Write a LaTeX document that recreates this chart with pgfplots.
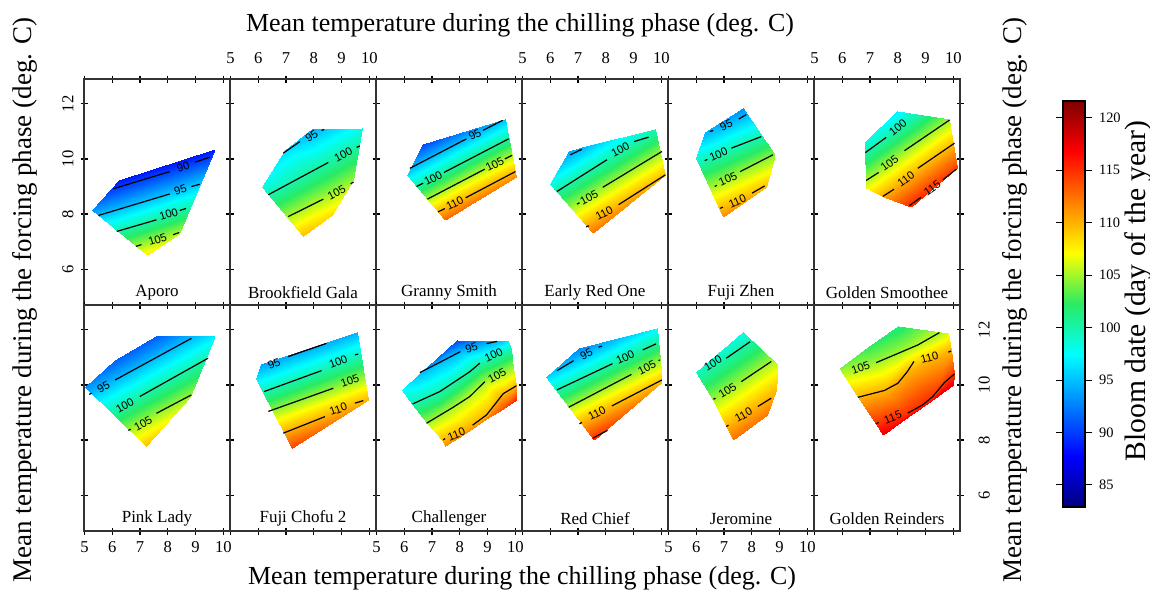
\documentclass[border=0pt]{standalone}
\usepackage{fontspec}
\setmainfont{Liberation Serif}
\newfontfamily\sansf{Liberation Sans}
\usepackage{pgfplots}
\pgfplotsset{compat=1.18}
\pgfplotsset{
 colormap={myjet}{rgb255(0cm)=(0,0,128) rgb255(1cm)=(0,0,255) rgb255(2cm)=(0,128,255) rgb255(3cm)=(0,255,255) rgb255(4cm)=(40,235,100) rgb255(5cm)=(255,255,0) rgb255(6cm)=(255,128,0) rgb255(7cm)=(255,0,0) rgb255(8cm)=(128,0,0)},
 panel/.style={
   scale only axis, width=73pt, height=113pt, anchor=north west,
   xmin=4.98, xmax=10.24, ymin=4.7, ymax=12.9,
   xtick={5,6,7,8,9,10}, ytick={6,8,10,12},
   tick align=center, major tick length=3.5pt,
   tick style={black, line width=0.6pt},
   axis line style={line width=0.7pt, black!80},
   colormap name=myjet, point meta min=82.9, point meta max=121.6,
   ticklabel style={font=\fontsize{8.3}{9}\selectfont},
   /pgf/number format/assume math mode=true,
 },
 srf/.style={patch, shader=interp, point meta=explicit},
}
\tikzset{
 cl/.style={black, line width=0.6pt},
 clab/.style={font=\sansf\fontsize{5.6}{6}\selectfont, inner sep=0pt},
 pname/.style={font=\fontsize{8.5}{9}\selectfont},
}
\newcommand{\CL}[1]{\addplot[cl] coordinates {#1};}
\newcommand{\LB}[3]{\node[clab,rotate=#1] at (axis cs:#2) {#3};}
\begin{document}
\begin{tikzpicture}
\useasboundingbox (0,0) rectangle (575pt,-295.5pt);
% ---------- Panel 1: Aporo
\begin{axis}[panel, at={(42pt,-39.5pt)}, xticklabels={}, yticklabel pos=left, ytick pos=both, xtick pos=both, yticklabel style={rotate=90, anchor=south}]
\addplot[srf] table[meta=c]{
x y c
7.37 8.30 96.7
5.26 8.13 93.3
6.25 9.22 88.5
7.37 8.30 96.7
6.25 9.22 88.5
9.69 10.36 88.5
7.37 8.30 96.7
9.69 10.36 88.5
8.41 7.28 105.4
7.37 8.30 96.7
8.41 7.28 105.4
7.26 6.52 107.8
7.37 8.30 96.7
7.26 6.52 107.8
5.26 8.13 93.3
};
\CL{(6.04,8.92)(8.07,9.54)} \CL{(8.97,9.88)(9.51,10.06)} \LB{18}{8.55,9.71}{90}
\CL{(5.50,7.95)(8.07,8.73)} \CL{(8.85,9.00)(9.15,9.08)} \LB{18}{8.45,8.88}{95}
\CL{(6.16,7.37)(7.59,7.79)} \CL{(8.43,8.13)(8.65,8.20)} \LB{18}{8.03,7.99}{100}
\CL{(6.85,6.83)(7.05,6.89)} \CL{(8.19,7.25)(8.41,7.33)} \LB{18}{7.63,7.08}{105}
\node[pname] at (rel axis cs:0.5,0.055) {Aporo};
\end{axis}
% ---------- Panel 2: Brookfield Gala
\begin{axis}[panel, at={(115pt,-39.5pt)}, yticklabels={}, xticklabel pos=right, xtick pos=both, ytick pos=both, xticklabel shift=2.5pt]
\addplot[srf] table[meta=c]{
x y c
8.20 9.30 101.7
6.12 9.00 98.2
6.96 10.33 96.2
8.20 9.30 101.7
6.96 10.33 96.2
7.92 11.08 94.5
8.20 9.30 101.7
7.92 11.08 94.5
9.74 11.14 98.0
8.20 9.30 101.7
9.74 11.14 98.0
9.42 9.24 104.7
8.20 9.30 101.7
9.42 9.24 104.7
8.64 7.97 108.3
8.20 9.30 101.7
8.64 7.97 108.3
7.62 7.19 109.5
8.20 9.30 101.7
7.62 7.19 109.5
6.12 9.00 98.2
};
\CL{(6.90,10.21)(7.50,10.63)} \CL{(8.28,11.03)(8.37,11.07)} \LB{32}{7.92,10.82}{95}
\CL{(6.36,8.70)(8.52,9.87)} \CL{(9.54,10.42)(9.66,10.47)} \LB{28}{9.06,10.15}{100}
\CL{(7.08,7.91)(8.34,8.54)} \CL{(9.33,9.10)(9.43,9.16)} \LB{28}{8.82,8.78}{105}
\node[pname] at (rel axis cs:0.5,0.055) {Brookfield Gala};
\end{axis}
% ---------- Panel 3: Granny Smith
\begin{axis}[panel, at={(188pt,-39.5pt)}, xticklabels={}, yticklabels={}, xtick pos=both, ytick pos=both]
\addplot[srf] table[meta=c]{
x y c
8.24 9.48 103.9
6.08 9.42 96.2
6.66 10.55 90.4
8.24 9.48 103.9
6.66 10.55 90.4
9.62 11.45 95.0
8.24 9.48 103.9
9.62 11.45 95.0
10.04 9.36 111.5
8.24 9.48 103.9
10.04 9.36 111.5
7.46 7.79 113.0
8.24 9.48 103.9
7.46 7.79 113.0
6.08 9.42 96.2
};
\CL{(6.20,9.66)(8.24,10.73)} \CL{(8.84,11.04)(9.54,11.40)} \LB{27}{8.54,10.88}{95}
\CL{(6.44,9.00)(6.68,9.12)} \CL{(7.43,9.51)(9.76,10.73)} \LB{27}{7.04,9.30}{100}
\CL{(6.83,8.54)(8.90,9.63)} \CL{(9.62,10.00)(9.88,10.13)} \LB{27}{9.26,9.81}{105}
\CL{(7.22,8.08)(7.46,8.20)} \CL{(8.21,8.59)(10.00,9.54)} \LB{27}{7.82,8.40}{110}
\node[pname] at (rel axis cs:0.5,0.055) {Granny Smith};
\end{axis}
% ---------- Panel 4: Early Red One
\begin{axis}[panel, at={(261pt,-39.5pt)}, yticklabels={}, xticklabel pos=right, xtick pos=both, ytick pos=both, xticklabel shift=2.5pt]
\addplot[srf] table[meta=c]{
x y c
8.16 9.24 104.3
6.00 9.10 98.1
6.66 10.27 93.9
8.16 9.24 104.3
6.66 10.27 93.9
7.14 10.42 94.6
8.16 9.24 104.3
7.14 10.42 94.6
9.78 11.08 99.7
8.16 9.24 104.3
9.78 11.08 99.7
10.14 9.42 109.7
8.16 9.24 104.3
10.14 9.42 109.7
7.53 7.33 112.5
8.16 9.24 104.3
7.53 7.33 112.5
6.00 9.10 98.1
};
\CL{(6.72,10.15)(7.14,10.35)}
\CL{(6.24,8.82)(8.04,9.97)} \CL{(9.02,10.63)(9.54,10.79)} \LB{28}{8.52,10.33}{100}
\CL{(6.96,8.36)(7.05,8.41)} \CL{(7.89,8.97)(10.02,10.27)} \LB{28}{7.40,8.60}{105}
\CL{(7.29,7.53)(7.39,7.58)} \CL{(8.46,8.34)(10.14,9.42)} \LB{28}{7.94,8.04}{110}
\node[pname] at (rel axis cs:0.5,0.055) {Early Red One};
\end{axis}
% ---------- Panel 5: Fuji Zhen
\begin{axis}[panel, at={(334pt,-39.5pt)}, xticklabels={}, yticklabels={}, xtick pos=both, ytick pos=both]
\addplot[srf] table[meta=c]{
x y c
7.38 9.84 102.7
7.68 11.86 93.2
8.82 10.15 104.5
7.38 9.84 102.7
8.82 10.15 104.5
8.52 9.00 109.6
7.38 9.84 102.7
8.52 9.00 109.6
6.96 7.91 111.5
7.38 9.84 102.7
6.96 7.91 111.5
6.00 10.03 98.7
7.38 9.84 102.7
6.00 10.03 98.7
6.30 10.99 94.5
7.38 9.84 102.7
6.30 10.99 94.5
7.68 11.86 93.2
};
\CL{(6.48,10.99)(6.60,11.03)} \CL{(7.53,11.45)(7.80,11.61)} \LB{24}{7.08,11.23}{95}
\CL{(6.30,9.94)(6.40,9.98)} \CL{(7.26,10.39)(8.34,10.81)} \LB{24}{6.80,10.17}{100}
\CL{(6.66,9.00)(6.74,9.04)} \CL{(7.58,9.54)(8.76,10.15)} \LB{24}{7.14,9.28}{105}
\CL{(6.86,8.21)(6.96,8.25)} \CL{(8.01,8.76)(8.46,9.02)} \LB{24}{7.48,8.46}{110}
\node[pname] at (rel axis cs:0.5,0.055) {Fuji Zhen};
\end{axis}
% ---------- Panel 6: Golden Smoothee
\begin{axis}[panel, at={(407pt,-39.5pt)}, yticklabels={}, xticklabel pos=right, xtick pos=both, ytick pos=both, xticklabel shift=2.5pt]
\addplot[srf] table[meta=c]{
x y c
8.48 9.97 107.3
6.80 10.63 98.2
7.98 11.74 96.8
8.48 9.97 107.3
7.98 11.74 96.8
9.86 11.44 104.8
8.48 9.97 107.3
9.86 11.44 104.8
10.14 9.66 114.5
8.48 9.97 107.3
10.14 9.66 114.5
8.48 8.27 115.6
8.48 9.97 107.3
8.48 8.27 115.6
7.58 8.58 111.0
8.48 9.97 107.3
7.58 8.58 111.0
6.86 8.94 106.7
8.48 9.97 107.3
6.86 8.94 106.7
6.80 10.63 98.2
};
\CL{(6.83,10.23)(7.58,10.78)} \LB{38}{8.00,11.14}{100}
\CL{(6.86,9.22)(7.31,9.51)} \CL{(8.24,10.30)(9.86,11.41)} \LB{36}{7.70,9.84}{105}
\CL{(7.46,8.64)(7.86,8.90)} \CL{(8.72,9.66)(10.04,10.57)} \LB{36}{8.29,9.26}{110}
\CL{(8.42,8.31)(8.84,8.61)} \CL{(9.62,9.24)(10.11,9.63)} \LB{36}{9.24,8.93}{115}
\node[pname] at (rel axis cs:0.5,0.055) {Golden Smoothee};
\end{axis}
% ---------- Panel 7: Pink Lady
\begin{axis}[panel, at={(42pt,-152.5pt)}, yticklabels={}, xticklabel pos=left, xtick pos=both, ytick pos=both]
\addplot[srf] table[meta=c]{
x y c
7.35 10.30 97.7
5.02 9.92 93.2
6.10 10.91 91.4
7.35 10.30 97.7
6.10 10.91 91.4
7.59 11.78 91.3
7.35 10.30 97.7
7.59 11.78 91.3
9.69 11.78 96.8
7.35 10.30 97.7
9.69 11.78 96.8
8.79 9.58 105.0
7.35 10.30 97.7
8.79 9.58 105.0
7.21 7.77 109.5
7.35 10.30 97.7
7.21 7.77 109.5
5.02 9.92 93.2
};
\CL{(5.17,9.66)(5.26,9.70)} \CL{(6.10,10.18)(8.85,11.69)} \LB{29}{5.68,9.92}{95}
\CL{(6.99,9.58)(9.45,10.97)} \LB{29}{6.45,9.26}{100}
\CL{(6.58,8.35)(6.66,8.40)} \CL{(7.59,8.97)(8.85,9.64)} \LB{29}{7.11,8.61}{105}
\node[pname] at (rel axis cs:0.5,0.055) {Pink Lady};
\end{axis}
% ---------- Panel 8: Fuji Chofu 2
\begin{axis}[panel, at={(115pt,-152.5pt)}, xticklabels={}, yticklabels={}, xtick pos=both, ytick pos=both]
\addplot[srf] table[meta=c]{
x y c
7.92 9.82 103.4
5.90 10.22 96.6
6.10 10.75 93.9
7.92 9.82 103.4
6.10 10.75 93.9
9.54 11.93 94.4
7.92 9.82 103.4
9.54 11.93 94.4
9.96 9.46 110.0
7.92 9.82 103.4
9.96 9.46 110.0
7.20 7.71 114.3
7.92 9.82 103.4
7.20 7.71 114.3
5.90 10.22 96.6
};
\CL{(7.08,11.03)(8.46,11.51)} \LB{20}{6.57,10.78}{95}
\CL{(6.21,9.76)(8.28,10.52)} \CL{(9.48,11.09)(9.60,11.12)} \LB{20}{8.88,10.84}{100}
\CL{(6.36,9.04)(8.70,9.88)} \LB{20}{9.30,10.14}{105}
\CL{(6.90,8.25)(8.40,8.85)} \CL{(9.48,9.34)(9.78,9.43)} \LB{20}{8.88,9.12}{110}
\node[pname] at (rel axis cs:0.5,0.055) {Fuji Chofu 2};
\end{axis}
% ---------- Panel 9: Challenger
\begin{axis}[panel, at={(188pt,-152.5pt)}, yticklabels={}, xticklabel pos=left, xtick pos=both, ytick pos=both]
\addplot[surf, shader=interp, point meta=explicit, mesh/cols=5] table[meta=c]{
x y c
6.56 10.42 95
6.86 10.69 93.5
7.16 10.97 92
7.91 11.63 90.5
9.44 11.61 95
6.56 10.42 95
6.92 10.62 95
7.28 10.82 95
8.00 11.21 95
9.44 11.58 95
6.26 9.30 100
6.80 9.54 100
7.28 9.76 100
8.72 10.79 100
9.86 11.29 100
6.80 8.61 105
7.28 8.91 105
7.76 9.22 105
8.84 10.12 105
9.92 10.61 105
7.40 7.95 110
8.48 8.55 110
9.08 8.97 110
9.50 9.60 110
10.04 9.97 110
7.46 7.77 111.5
8.24 8.27 111.5
8.96 8.75 112
9.56 9.14 114
10.04 9.46 115.5
};
\addplot[srf] table[meta=c]{
x y c
6.56 10.42 95
5.93 9.82 97.5
6.26 9.30 100
9.44 11.58 95
9.74 11.61 96.5
9.86 11.29 100
};
\CL{(6.56,10.45)(7.28,10.82)(8.02,11.21)} \CL{(8.96,11.50)(9.34,11.58)} \LB{18}{8.42,11.33}{95}
\CL{(6.30,9.31)(7.28,9.76)(8.36,10.48)(8.72,10.79)} \LB{25}{9.22,11.09}{100}
\CL{(6.80,8.61)(7.76,9.19)(8.36,9.58)(8.90,10.12)} \LB{28}{9.34,10.33}{105}
\CL{(7.40,8.01)(7.47,8.05)} \CL{(8.46,8.54)(8.96,8.91)(9.22,9.24)(9.56,9.68)(10.04,9.97)} \LB{22}{7.88,8.21}{110}
\node[pname] at (rel axis cs:0.5,0.055) {Challenger};
\end{axis}
% ---------- Panel 10: Red Chief
\begin{axis}[panel, at={(261pt,-152.5pt)}, xticklabels={}, yticklabels={}, xtick pos=both, ytick pos=both]
\addplot[srf] table[meta=c]{
x y c
8.16 10.06 104.4
5.86 10.28 95.8
7.02 11.33 92.8
8.16 10.06 104.4
7.02 11.33 92.8
9.84 12.05 97.2
8.16 10.06 104.4
9.84 12.05 97.2
10.02 10.12 109.9
8.16 10.06 104.4
10.02 10.12 109.9
7.56 8.01 115.4
8.16 10.06 104.4
7.56 8.01 115.4
5.86 10.28 95.8
};
\CL{(6.24,10.52)(6.84,10.88)} \CL{(7.74,11.37)(7.86,11.41)} \LB{27}{7.30,11.13}{95}
\CL{(6.24,9.82)(8.24,10.77)} \CL{(9.33,11.27)(9.81,11.49)} \LB{25}{8.70,11.00}{100}
\CL{(6.66,9.19)(8.92,10.38)} \CL{(9.90,10.88)(9.95,10.91)} \LB{27}{9.48,10.62}{105}
\CL{(7.05,8.59)(7.14,8.64)} \CL{(8.22,9.24)(10.02,10.18)} \LB{27}{7.68,8.98}{110}
\CL{(7.53,8.07)(8.06,8.35)}
\node[pname] at (rel axis cs:0.5,0.055) {Red Chief};
\end{axis}
% ---------- Panel 11: Jeromine
\begin{axis}[panel, at={(334pt,-152.5pt)}, yticklabels={}, xticklabel pos=left, xtick pos=both, ytick pos=both]
\addplot[srf] table[meta=c]{
x y c
7.56 9.82 106.1
6.00 10.48 99.3
7.68 11.93 98.1
7.56 9.82 106.1
7.68 11.93 98.1
8.94 10.73 106.2
7.56 9.82 106.1
8.94 10.73 106.2
8.88 9.82 109.6
7.56 9.82 106.1
8.88 9.82 109.6
8.54 8.91 112.3
7.56 9.82 106.1
8.54 8.91 112.3
7.32 8.01 112.6
7.56 9.82 106.1
7.32 8.01 112.6
6.60 9.46 105.0
7.56 9.82 106.1
6.60 9.46 105.0
6.00 10.48 99.3
};
\CL{(7.08,10.97)(7.94,11.57)} \LB{32}{6.60,10.79}{100}
\CL{(6.62,9.48)(6.69,9.52)} \CL{(7.62,10.12)(8.70,10.85)} \LB{32}{7.12,9.80}{105}
\CL{(7.08,8.49)(7.16,8.54)} \CL{(8.22,9.22)(8.70,9.52)} \LB{30}{7.70,8.91}{110}
\node[pname] at (rel axis cs:0.5,0.055) {Jeromine};
\end{axis}
% ---------- Panel 12: Golden Reinders
\begin{axis}[panel, at={(407pt,-152.5pt)}, xticklabels={}, yticklabel pos=right, xtick pos=both, ytick pos=both, yticklabel style={rotate=90, anchor=north}, yticklabel shift=4pt]
\addplot[surf, shader=interp, point meta=explicit, mesh/cols=4] table[meta=c]{
x y c
5.90 10.61 104
6.92 11.39 102.5
8.00 12.14 101.5
9.80 11.87 106.5
5.96 10.52 105
7.22 10.81 105
8.24 11.27 105
9.50 11.90 105
6.56 9.55 110
7.52 9.82 110
8.36 10.52 110
9.92 11.25 110
7.22 8.59 115
8.36 8.98 115
9.26 9.58 115
10.04 10.40 115
7.46 8.19 117.5
8.36 8.83 117
9.20 9.40 117
9.98 10.00 117.5
};
\addplot[srf] table[meta=c]{
x y c
9.50 11.90 105
9.80 11.87 106.5
9.92 11.25 110
};
\CL{(7.22,10.81)(7.88,11.09)(8.72,11.45)(9.50,11.90)} \LB{20}{6.66,10.61}{105}
\CL{(6.56,9.55)(7.52,9.80)(8.00,10.06)(8.34,10.48)(8.58,10.85)} \CL{(9.82,11.19)(9.92,11.23)} \LB{15}{9.14,11.00}{110}
\CL{(7.22,8.59)(7.31,8.64)} \CL{(8.36,8.98)(8.90,9.28)(9.26,9.58)(9.68,10.09)(10.04,10.40)} \LB{22}{7.82,8.83}{115}
\node[pname] at (rel axis cs:0.5,0.055) {Golden Reinders};
\end{axis}
% ---------- Colorbar
\begin{axis}[at={(531.5pt,-50.5pt)}, anchor=north west, hide axis, scale only axis, width=11pt, height=203pt,
  xmin=0, xmax=1, ymin=0, ymax=1,
  colormap name=myjet, point meta min=82.9, point meta max=121.6,
  colorbar,
  colorbar style={at={(0,1)}, anchor=north west, xshift=0pt, width=11pt, height=203pt,
    ytick={85,90,...,120}, tick align=outside, major tick length=3.5pt,
    tick style={black, line width=0.5pt},
    yticklabel style={font=\fontsize{7.2}{8}\selectfont},
    /pgf/number format/assume math mode=true,
    axis line style={line width=0.6pt}}]
\addplot[draw=none] coordinates {(0,0)};
\end{axis}
% ---------- Titles
\node[font=\fontsize{13}{15}\selectfont] at (260pt,-12.5pt) {Mean temperature during the chilling phase (deg. C)};
\node[font=\fontsize{13}{15}\selectfont] at (261pt,-289pt) {Mean temperature during the chilling phase (deg. C)};
\node[font=\fontsize{13.5}{15}\selectfont, rotate=90] at (12.5pt,-150pt) {Mean temperature during the forcing phase (deg. C)};
\node[font=\fontsize{13.5}{15}\selectfont, rotate=90] at (507.5pt,-150pt) {Mean temperature during the forcing phase (deg. C)};
\node[font=\fontsize{14.8}{16}\selectfont, rotate=90] at (569pt,-145.5pt) {Bloom date (day of the year)};
\end{tikzpicture}
\end{document}
